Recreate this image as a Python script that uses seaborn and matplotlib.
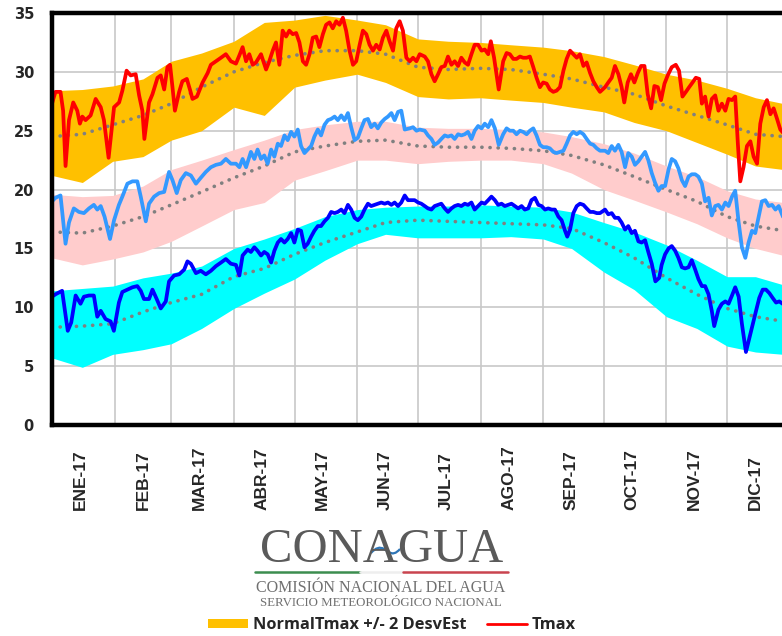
import matplotlib
matplotlib.use("Agg")
import matplotlib.pyplot as plt
import seaborn as sns
from matplotlib.patches import Patch, PathPatch
from matplotlib.path import Path
from matplotlib.lines import Line2D

# ---------------- data ----------------
month_labels = ["ENE-17", "FEB-17", "MAR-17", "ABR-17", "MAY-17", "JUN-17",
                "JUL-17", "AGO-17", "SEP-17", "OCT-17", "NOV-17", "DIC-17"]
month_start = [0, 31, 59, 90, 120, 151, 181, 212, 243, 273, 304, 334]
y_ticks = [0, 5, 10, 15, 20, 25, 30, 35]
legend_labels = ["NormalTmax +/- 2 DesvEst", "Tmax"]

band_day = [0, 15, 30, 45, 59, 74, 90, 105, 120, 135, 151, 165, 181, 196, 212,
            227, 243, 257, 273, 288, 304, 319, 334, 348, 362]
normal_tmax = [24.5, 24.7, 25.5, 26.3, 27.3, 28.7, 30.0, 30.8, 31.4, 31.8, 31.8, 31.5, 30.4,
               30.2, 30.3, 30.2, 29.8, 29.4, 28.7, 28.1, 27.1, 26.3, 25.5, 24.7, 24.5]
upper_tmax = [28.4, 28.5, 28.8, 29.4, 30.9, 31.6, 32.6, 34.2, 34.4, 34.8, 34.4, 34.0, 32.8,
              32.6, 32.5, 32.3, 32.1, 31.8, 31.3, 30.6, 29.8, 29.3, 28.6, 27.8, 27.3]
lower_tmax = [21.2, 20.6, 22.4, 22.8, 24.2, 25.0, 27.0, 26.3, 28.7, 29.3, 29.8, 29.1, 27.9,
              27.7, 27.8, 27.6, 27.4, 27.0, 26.6, 25.7, 25.0, 24.0, 23.0, 22.0, 21.7]
normal_tmed = [16.4, 16.3, 16.9, 17.7, 18.7, 19.8, 21.0, 22.0, 23.2, 23.7, 24.1, 24.2, 23.7,
               23.6, 23.6, 23.5, 23.3, 22.9, 22.1, 21.1, 20.0, 19.0, 17.7, 16.9, 16.5]
upper_tmed = [19.6, 19.4, 19.5, 20.3, 21.7, 22.5, 23.4, 24.2, 25.1, 25.5, 25.8, 25.8, 25.3,
              25.2, 25.2, 25.1, 24.9, 24.5, 23.9, 23.1, 22.0, 21.1, 19.9, 19.2, 18.9]
lower_tmed = [14.2, 13.6, 14.1, 14.7, 15.6, 16.9, 18.3, 18.9, 20.8, 21.6, 22.5, 22.5, 22.2,
              22.4, 22.5, 22.5, 22.2, 21.4, 20.0, 19.1, 18.1, 17.1, 15.9, 15.0, 14.4]
normal_tmin = [8.3, 8.4, 8.6, 9.6, 10.4, 11.1, 12.6, 13.3, 14.5, 15.5, 16.4, 17.2, 17.4,
               17.3, 17.2, 17.1, 17.0, 16.7, 15.5, 14.2, 12.5, 11.1, 9.9, 9.2, 8.8]
upper_tmin = [11.4, 11.6, 11.8, 12.5, 12.9, 13.5, 15.0, 15.8, 16.7, 17.7, 18.3, 18.5, 18.6,
              18.6, 18.7, 18.6, 18.5, 18.1, 17.2, 16.4, 15.3, 14.0, 12.6, 12.6, 11.9]
lower_tmin = [5.7, 4.9, 6.0, 6.4, 6.9, 8.2, 9.9, 11.2, 12.4, 14.0, 15.4, 16.2, 15.9,
              15.9, 15.9, 16.0, 15.8, 15.0, 13.0, 11.5, 9.2, 8.2, 6.7, 6.2, 6.0]

tmax_points = [
    (0, 27.3), (1.7, 28.3), (4.2, 28.3), (5.5, 26.7), (6.7, 22.0), (8.4, 25.9), (10.5, 27.4),
    (12.5, 26.7), (13.8, 25.6), (15.0, 26.2), (16.6, 25.9), (19.1, 26.3), (21.6, 27.7),
    (24.1, 27.0), (25.7, 25.9), (28.0, 22.7), (30.7, 27.0), (33.2, 27.4), (34.8, 28.4),
    (36.9, 30.1), (38.9, 29.7), (41.4, 29.8), (43.1, 28.0), (44.7, 26.7), (45.7, 24.3),
    (48.0, 27.4), (49.7, 28.1), (52.2, 29.5), (53.8, 29.7), (55.5, 28.5), (57.1, 30.4),
    (58.4, 30.6), (59.6, 28.7), (60.8, 26.7), (62.9, 28.3), (64.5, 29.2), (66.7, 29.4),
    (68.4, 28.4), (69.5, 27.7), (71.7, 27.9), (74.5, 29.1), (77.0, 29.9), (78.6, 30.6),
    (81.1, 30.9), (83.6, 31.2), (86.0, 31.5), (88.5, 30.9), (91.0, 30.7), (92.7, 31.4),
    (94.3, 32.1), (96.0, 30.9), (97.6, 31.5), (99.3, 30.6), (100.9, 30.8), (103.4, 31.5),
    (105.9, 30.2), (107.5, 30.9), (109.2, 31.8), (110.8, 32.5), (112.5, 30.6), (114.1, 33.5),
    (115.8, 33.0), (117.4, 33.5), (119.1, 33.2), (120.8, 33.3), (122.4, 32.5), (124.1, 30.9),
    (125.7, 30.6), (127.4, 31.5), (129.0, 32.9), (130.7, 33.0), (132.3, 32.1), (134.0, 33.2),
    (135.6, 34.0), (137.3, 34.2), (138.9, 33.7), (140.6, 34.3), (142.2, 34.0), (143.9, 34.6),
    (145.5, 33.5), (147.2, 31.8), (148.9, 30.6), (150.5, 30.9), (152.2, 32.3), (153.8, 33.5),
    (155.5, 33.2), (157.1, 32.3), (158.8, 31.8), (160.4, 32.3), (162.1, 31.9), (163.7, 32.9),
    (165.4, 33.5), (167.0, 32.6), (168.7, 31.8), (170.3, 33.7), (172.0, 34.3), (173.6, 33.5),
    (175.3, 31.2), (177.0, 30.9), (178.6, 31.2), (180.3, 30.9), (181.9, 31.5), (184.4, 31.3),
    (186.0, 30.9), (187.7, 29.8), (189.3, 29.2), (191.0, 29.8), (192.6, 30.4), (194.3, 30.5),
    (195.9, 31.3), (197.6, 30.6), (199.2, 30.9), (200.9, 30.5), (202.5, 31.2), (204.2, 30.8),
    (205.8, 30.6), (207.5, 31.5), (209.1, 32.3), (210.8, 32.3), (212.5, 31.8), (214.1, 31.9),
    (215.8, 31.5), (217.1, 32.6), (218.7, 31.2), (221.0, 28.5), (223.2, 30.9), (224.9, 31.6),
    (226.5, 31.5), (228.2, 31.1), (229.8, 31.1), (231.5, 31.3), (233.1, 31.2), (234.8, 31.2),
    (236.4, 31.3), (238.1, 30.4), (239.7, 29.5), (241.4, 28.7), (243.0, 29.1), (244.7, 29.0),
    (246.3, 28.5), (248.0, 28.3), (249.6, 28.4), (251.3, 28.7), (253.0, 30.1), (254.6, 31.1),
    (256.3, 31.8), (257.9, 31.5), (259.6, 31.2), (261.2, 31.5), (262.9, 30.5), (264.5, 30.8),
    (266.2, 29.9), (267.8, 29.2), (269.5, 28.7), (271.1, 28.3), (273.6, 28.7), (275.2, 29.1),
    (276.9, 29.5), (278.5, 30.5), (280.2, 29.8), (281.8, 28.7), (283.1, 27.4), (284.8, 29.1),
    (286.4, 29.8), (288.1, 29.1), (289.8, 29.9), (291.4, 30.5), (293.1, 30.5), (294.7, 28.1),
    (296.4, 26.9), (298.0, 28.8), (299.7, 28.7), (301.3, 27.6), (303.0, 29.0), (304.6, 29.7),
    (306.6, 30.4), (308.6, 30.6), (310.2, 30.1), (311.9, 27.9), (313.6, 28.3), (315.2, 28.7),
    (316.9, 29.1), (318.5, 29.5), (320.2, 29.4), (321.5, 27.3), (323.1, 27.9), (324.8, 26.2),
    (326.4, 27.7), (328.1, 28.0), (329.7, 26.7), (331.4, 27.3), (333.1, 26.7), (334.7, 27.7),
    (336.4, 27.6), (338.0, 27.9), (339.3, 23.9), (340.5, 20.7), (342.1, 21.9), (343.8, 23.7),
    (345.5, 24.1), (347.1, 22.8), (348.8, 22.2), (350.4, 25.6), (352.1, 27.0), (353.7, 27.6),
    (355.4, 26.4), (357.0, 26.9), (358.7, 26.0), (360.3, 25.1), (362.3, 24.7)]

tmed_points = [
    (0, 19.0), (1.7, 19.3), (4.2, 19.5), (6.7, 15.4), (8.4, 17.2), (10.8, 18.4), (13.3, 18.1),
    (15.8, 18.0), (18.3, 18.4), (20.7, 18.7), (22.4, 18.3), (24.1, 18.6), (26.0, 17.7),
    (28.7, 15.8), (30.7, 17.4), (33.1, 18.7), (34.8, 19.4), (37.3, 20.5), (39.8, 20.7),
    (42.2, 20.7), (43.9, 19.4), (46.4, 17.3), (48.0, 18.8), (50.5, 19.4), (53.0, 19.7),
    (55.5, 19.8), (57.9, 21.5), (59.6, 20.8), (61.7, 19.7), (63.7, 20.8), (66.2, 21.4),
    (68.7, 21.2), (71.2, 20.5), (73.6, 21.0), (76.1, 21.5), (78.6, 21.9), (81.1, 22.1),
    (83.6, 22.2), (86.0, 22.6), (88.5, 22.2), (91.0, 22.2), (92.7, 21.9), (94.3, 22.6),
    (96.0, 21.9), (98.4, 23.2), (100.1, 22.6), (101.7, 23.4), (103.4, 22.6), (105.0, 22.9),
    (106.7, 22.2), (108.4, 23.4), (110.0, 22.8), (111.7, 23.9), (113.3, 23.7), (115.0, 24.6),
    (116.6, 24.2), (118.3, 24.9), (119.9, 24.5), (121.6, 25.1), (123.2, 23.7), (124.9, 23.1),
    (126.5, 23.4), (128.2, 23.7), (129.8, 24.5), (131.5, 25.1), (133.1, 24.6), (134.8, 25.5),
    (136.5, 25.9), (138.1, 26.0), (139.8, 26.2), (141.4, 25.9), (143.1, 26.3), (144.7, 25.9),
    (146.4, 26.5), (148.0, 25.3), (149.7, 24.2), (151.3, 24.4), (153.0, 25.2), (154.6, 25.9),
    (156.3, 26.0), (157.9, 25.3), (159.6, 25.6), (161.2, 25.2), (162.9, 25.7), (164.6, 26.0),
    (166.2, 26.2), (167.9, 26.5), (169.5, 25.9), (171.2, 26.6), (172.8, 26.7), (174.5, 25.1),
    (177.0, 25.2), (178.6, 25.3), (180.3, 25.0), (181.9, 25.1), (184.4, 25.0), (186.0, 24.6),
    (187.7, 24.3), (189.3, 23.8), (191.0, 24.0), (192.6, 24.3), (194.3, 24.6), (195.9, 24.5),
    (197.6, 24.6), (199.2, 24.3), (200.9, 24.7), (202.5, 24.6), (204.2, 24.7), (205.8, 24.9),
    (207.5, 24.3), (209.1, 25.0), (210.8, 25.4), (212.5, 25.2), (214.1, 25.6), (215.8, 25.3),
    (217.4, 25.9), (219.1, 25.2), (221.0, 23.8), (223.2, 24.7), (224.9, 25.2), (226.5, 25.0),
    (228.2, 25.0), (229.8, 24.7), (231.5, 25.0), (233.1, 24.9), (234.8, 24.7), (236.4, 25.0),
    (238.1, 25.2), (239.7, 24.6), (241.4, 23.8), (243.0, 23.6), (244.7, 23.6), (246.3, 23.5),
    (248.0, 23.2), (249.6, 23.1), (251.3, 23.2), (253.0, 23.3), (254.6, 23.9), (256.3, 24.6),
    (257.9, 24.9), (259.6, 24.7), (261.2, 24.9), (262.9, 24.7), (264.5, 24.3), (266.2, 23.9),
    (267.8, 23.8), (269.5, 23.5), (271.1, 23.3), (273.6, 23.3), (275.2, 23.1), (276.9, 23.7),
    (278.5, 23.3), (280.2, 23.8), (281.8, 23.2), (283.5, 21.9), (285.1, 23.1), (286.8, 22.8),
    (288.4, 22.1), (290.1, 22.4), (291.7, 22.8), (293.4, 23.2), (295.0, 22.5), (296.7, 21.4),
    (298.3, 20.6), (300.0, 19.9), (301.6, 20.3), (303.3, 20.3), (305.0, 21.7), (306.6, 22.6),
    (308.3, 22.4), (309.9, 21.8), (311.6, 20.8), (313.2, 20.3), (314.9, 21.1), (316.5, 21.3),
    (318.2, 21.3), (319.8, 21.1), (321.5, 20.5), (323.1, 19.0), (324.8, 19.3), (326.4, 17.8),
    (328.1, 18.6), (329.7, 18.7), (331.4, 18.3), (333.1, 18.9), (334.7, 18.6), (336.4, 19.4),
    (338.0, 19.9), (339.7, 17.2), (341.3, 15.1), (343.0, 14.2), (344.6, 15.5), (346.3, 16.5),
    (347.9, 16.3), (349.6, 17.7), (351.2, 19.0), (352.9, 19.1), (354.5, 18.6), (356.2, 18.7),
    (357.9, 18.3), (359.5, 18.6), (362.3, 17.4)]

tmin_points = [
    (0, 10.9), (1.7, 11.1), (5.0, 11.4), (7.8, 8.0), (9.5, 8.7), (11.7, 11.0), (14.1, 10.3),
    (15.8, 10.9), (18.3, 11.0), (20.7, 11.0), (22.4, 9.2), (24.1, 9.7), (26.5, 9.0),
    (29.0, 8.8), (30.6, 8.0), (33.1, 10.4), (34.8, 11.3), (37.3, 11.5), (39.8, 11.7),
    (42.2, 11.8), (43.9, 11.4), (45.5, 10.7), (48.0, 10.7), (49.7, 11.5), (51.8, 10.7),
    (53.8, 9.9), (56.3, 10.5), (57.9, 12.2), (60.4, 12.7), (62.9, 12.8), (65.4, 13.2),
    (67.0, 13.9), (68.7, 13.7), (71.2, 12.9), (73.6, 13.1), (76.1, 12.8), (78.6, 13.1),
    (81.1, 13.5), (83.6, 13.8), (86.0, 14.1), (88.5, 13.7), (91.0, 13.6), (92.7, 12.7),
    (94.3, 14.4), (96.8, 14.9), (98.4, 14.7), (100.1, 15.1), (101.7, 14.8), (103.4, 14.4),
    (105.0, 14.7), (106.7, 14.5), (108.4, 13.8), (110.0, 14.8), (111.7, 15.5), (113.3, 15.8),
    (115.0, 15.5), (116.6, 15.8), (118.3, 16.3), (119.9, 15.5), (121.6, 16.6), (123.2, 16.5),
    (124.9, 15.1), (126.5, 15.4), (128.2, 16.0), (129.8, 16.5), (131.5, 16.9), (133.1, 16.9),
    (134.8, 17.3), (136.5, 17.6), (138.1, 18.1), (139.8, 18.0), (141.4, 18.1), (143.1, 18.3),
    (144.7, 18.0), (146.4, 18.7), (148.0, 18.3), (149.7, 17.6), (151.3, 17.4), (153.0, 17.7),
    (154.6, 18.3), (156.3, 18.8), (157.9, 18.6), (159.6, 18.7), (161.2, 18.8), (162.9, 18.9),
    (164.6, 18.8), (166.2, 18.9), (167.9, 18.7), (169.5, 18.9), (171.2, 18.6), (172.8, 18.9),
    (174.5, 19.5), (176.1, 19.1), (177.8, 19.1), (179.4, 19.1), (181.1, 18.9), (182.7, 18.8),
    (184.4, 18.6), (186.0, 18.4), (187.7, 18.3), (189.3, 18.6), (191.0, 18.7), (192.6, 18.8),
    (194.3, 18.4), (195.9, 18.1), (197.6, 18.4), (199.2, 18.6), (200.9, 18.7), (202.5, 18.6),
    (204.2, 18.8), (205.8, 18.7), (207.5, 18.9), (209.1, 18.3), (210.8, 18.6), (212.5, 18.9),
    (214.1, 18.8), (215.8, 19.1), (217.4, 19.4), (219.1, 19.1), (220.7, 18.7), (222.4, 18.8),
    (224.0, 18.6), (225.7, 18.7), (227.3, 18.8), (229.0, 18.6), (230.6, 18.4), (232.3, 18.6),
    (233.9, 18.3), (235.6, 18.4), (237.2, 19.1), (238.9, 19.3), (240.6, 18.7), (242.2, 18.6),
    (243.9, 18.3), (245.5, 18.4), (247.2, 18.3), (248.8, 18.3), (250.5, 17.7), (252.1, 17.4),
    (253.8, 16.5), (254.9, 16.0), (256.3, 16.6), (257.9, 18.0), (259.6, 18.6), (261.2, 18.8),
    (262.9, 18.7), (264.5, 18.4), (266.2, 18.1), (267.8, 18.1), (269.5, 18.0), (271.1, 18.0),
    (273.6, 18.3), (275.2, 17.9), (276.9, 18.0), (278.5, 17.6), (280.2, 17.6), (281.8, 17.2),
    (283.5, 16.6), (285.1, 16.9), (286.8, 16.3), (288.4, 16.5), (290.1, 15.6), (291.7, 15.5),
    (293.4, 15.7), (295.0, 14.7), (296.7, 13.7), (298.5, 12.2), (300.4, 12.5), (301.6, 13.6),
    (303.3, 14.5), (305.0, 15.0), (306.6, 15.2), (308.3, 14.8), (309.9, 14.2), (311.6, 13.4),
    (313.2, 13.3), (314.9, 13.4), (316.5, 14.0), (318.2, 13.2), (319.8, 12.4), (321.5, 11.8),
    (323.1, 11.8), (324.8, 11.1), (326.4, 9.7), (327.6, 8.4), (329.7, 9.8), (331.4, 10.3),
    (333.1, 10.5), (334.7, 10.3), (336.4, 11.0), (338.0, 11.7), (339.7, 10.9), (341.3, 8.6),
    (343.3, 6.2), (345.0, 7.4), (346.6, 8.5), (348.3, 9.7), (349.9, 10.8), (351.6, 11.5),
    (353.2, 11.5), (354.9, 11.2), (356.5, 10.8), (358.2, 10.4), (359.8, 10.5), (362.3, 10.2)]

tmax_day, tmax_val = zip(*tmax_points)
tmed_day, tmed_val = zip(*tmed_points)
tmin_day, tmin_val = zip(*tmin_points)

# ---------------- style ----------------
sns.set_style("white")
plt.rcParams["font.family"] = ["DejaVu Sans"]

W, H = 782, 636
fig = plt.figure(figsize=(W / 100, H / 100), dpi=100)
ax = fig.add_axes([52 / W, 1 - 425 / H, 1 - 52 / W + 0.003, (425 - 13) / H])

# bands
for lo, hi, col in [(lower_tmin, upper_tmin, "#00FFFF"),
                    (lower_tmed, upper_tmed, "#FFCCCC"),
                    (lower_tmax, upper_tmax, "#FFC000")]:
    ax.fill_between(band_day, lo, hi, color=col, lw=0, zorder=1)

# normals (dotted grey)
for normal in [normal_tmax, normal_tmed, normal_tmin]:
    sns.lineplot(x=band_day, y=normal, ax=ax, color="#808080", lw=2.6, zorder=3)
    ln = ax.lines[-1]
    ln.set_linestyle((0, (0.05, 2.2)))
    ln.set_dash_capstyle("round")

# observed
sns.lineplot(x=list(tmax_day), y=list(tmax_val), ax=ax, color="#FF0000", lw=2.7, zorder=4)
sns.lineplot(x=list(tmed_day), y=list(tmed_val), ax=ax, color="#3399FF", lw=2.7, zorder=4)
sns.lineplot(x=list(tmin_day), y=list(tmin_val), ax=ax, color="#0000FF", lw=2.7, zorder=4)

ax.set_xlim(0, 362.3)
ax.set_ylim(0, 35)
ax.set_xlabel("")
ax.set_ylabel("")

ax.set_yticks(y_ticks)
ax.set_yticklabels([str(v) for v in y_ticks], fontweight="bold", fontsize=10.5,
                   family="DejaVu Sans")
ax.set_xticks([s + 14 for s in month_start])
ax.set_xticklabels(month_labels, rotation=90, va="bottom", ha="center",
                   fontweight="bold", fontsize=12.5, family="Liberation Sans")
ax.set_xticks(month_start[1:], minor=True)
ax.tick_params(axis="x", which="both", length=0, pad=61)
ax.tick_params(axis="y", length=0, pad=13)

ax.grid(False)
ax.grid(True, axis="y", which="major", color="#C8C8C8", lw=1.2)
ax.grid(True, axis="x", which="minor", color="#C8C8C8", lw=1.2)
ax.set_axisbelow(True)
for s in ["left", "top", "bottom"]:
    ax.spines[s].set_visible(True)
    ax.spines[s].set_linewidth(3.2)
    ax.spines[s].set_color("black")
    ax.spines[s].set_zorder(10)
ax.spines["right"].set_visible(False)

# ---------------- logo ----------------
fig.text(381.5 / W, 1 - 562 / H, "CONAGUA", family="Liberation Serif", fontsize=35,
         color="#5A5A5A", ha="center", va="baseline")
# blue swoosh of the logo (decoration)
def fp(x, y):
    return (x / W, 1 - y / H)
wave = Path([fp(371, 553), fp(378, 545), fp(384, 549), fp(389, 552),
             fp(394, 556), fp(400, 549)],
            [Path.MOVETO, Path.CURVE4, Path.CURVE4, Path.CURVE4, Path.CURVE4, Path.CURVE4][:1]
            + [Path.CURVE3, Path.CURVE3, Path.LINETO, Path.CURVE3, Path.CURVE3])
fig.add_artist(PathPatch(wave, facecolor="none", edgecolor="#2E75B6", lw=1.6,
                         transform=fig.transFigure))
fig.add_artist(Line2D([255 / W, 360 / W], [1 - 572 / H] * 2, color="#3C8D4F", lw=1.8))
fig.add_artist(Line2D([360 / W, 403 / W], [1 - 572 / H] * 2, color="#EEEEEE", lw=1.8))
fig.add_artist(Line2D([403 / W, 508 / W], [1 - 572 / H] * 2, color="#C9444F", lw=1.8))
fig.text(381 / W, 1 - 592 / H, "COMISIÓN NACIONAL DEL AGUA", family="Liberation Serif",
         fontsize=11.5, color="#707070", ha="center", va="baseline")
fig.text(381 / W, 1 - 606 / H, "SERVICIO METEOROLÓGICO NACIONAL", family="Liberation Serif",
         fontsize=9.3, color="#707070", ha="center", va="baseline")

# ---------------- legend ----------------
handles = [Patch(facecolor="#FFC000", edgecolor="none"),
           Line2D([], [], color="#FF0000", lw=2)]
fig.legend(handles, legend_labels, loc="center", bbox_to_anchor=(392 / W, 1 - 625 / H),
           ncol=2, frameon=False, prop=dict(family="Open Sans", weight="bold", size=11.8),
           handlelength=2.4, handleheight=0.45, handletextpad=0.3, columnspacing=1.3,
           borderaxespad=0, borderpad=0)

fig.savefig("out.png", dpi=100)
